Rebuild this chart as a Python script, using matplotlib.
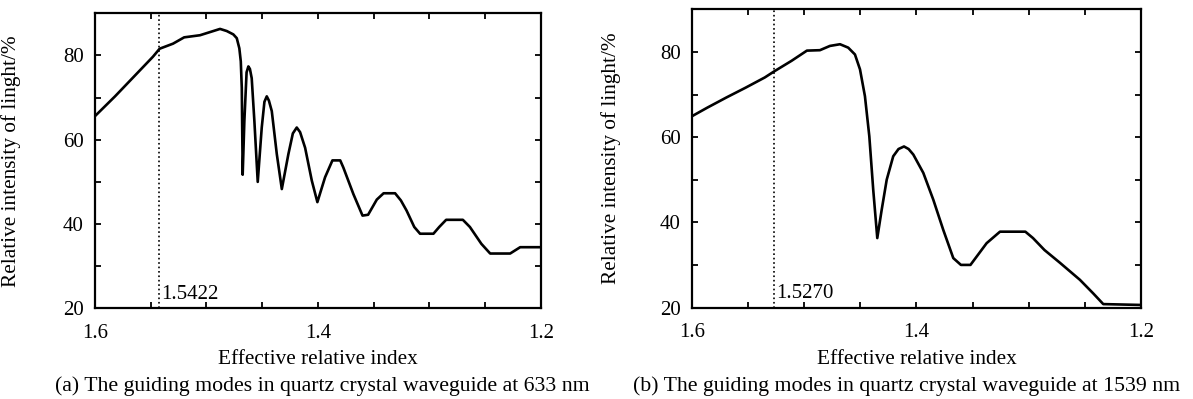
import matplotlib
matplotlib.use('Agg')
import matplotlib.pyplot as plt

plt.rcParams['font.family'] = ['Liberation Serif', 'DejaVu Serif']

# (a) 633 nm
n_a = [1.600, 1.582, 1.565, 1.548, 1.542, 1.530, 1.520, 1.5058, 1.4938, 1.4878,
       1.4818, 1.4759, 1.4728, 1.4705, 1.4692, 1.4683, 1.4675, 1.4660, 1.4640,
       1.4624, 1.4610, 1.4594, 1.4570, 1.4540, 1.4504, 1.4480, 1.4459, 1.4440,
       1.4414, 1.4369, 1.4324, 1.4265, 1.4225, 1.4190, 1.4160, 1.4115, 1.4055,
       1.4005, 1.3936, 1.3870, 1.3800, 1.3772, 1.3682, 1.3600, 1.3550, 1.3472,
       1.3411, 1.3308, 1.3256, 1.3205, 1.3136, 1.3084, 1.2964, 1.2912, 1.2850,
       1.2700, 1.2637, 1.2534, 1.2455, 1.2276, 1.2186, 1.2000]
I_a = [65.6, 70.3, 75.0, 79.7, 81.6, 82.8, 84.3, 84.8, 85.8, 86.3,
       85.8, 85.0, 84.1, 81.7, 78.6, 72.3, 51.7, 64.4, 76.0,
       77.4, 76.8, 74.6, 64.4, 50.0, 62.9, 69.0, 70.3, 69.3,
       66.8, 56.6, 48.3, 56.6, 61.5, 62.9, 61.8, 58.1, 50.3,
       45.2, 51.1, 55.1, 55.1, 53.4, 47.1, 42.0, 42.2, 45.8,
       47.3, 47.3, 45.6, 43.2, 39.3, 37.7, 37.7, 39.3, 41.0,
       41.0, 39.3, 35.3, 33.0, 33.0, 34.5, 34.5]

# (b) 1539 nm
n_b = [1.600, 1.5864, 1.5693, 1.5522, 1.5351, 1.5263, 1.5113, 1.4976, 1.4860,
       1.4771, 1.4681, 1.4608, 1.4548, 1.4503, 1.4459, 1.4420, 1.4385, 1.4349,
       1.4310, 1.4265, 1.4207, 1.4160, 1.4111, 1.4070, 1.4028, 1.3939, 1.3850,
       1.3761, 1.3672, 1.3604, 1.3519, 1.3375, 1.3256, 1.3030, 1.2962, 1.2860,
       1.2722, 1.2544, 1.2425, 1.2336, 1.2000]
I_b = [64.9, 66.9, 69.3, 71.6, 74.0, 75.5, 77.9, 80.3, 80.4,
       81.4, 81.8, 81.0, 79.4, 75.9, 69.6, 60.2, 47.6, 36.3,
       42.9, 50.0, 55.5, 57.2, 57.8, 57.2, 55.9, 51.6, 45.3,
       38.2, 31.6, 30.0, 30.0, 35.1, 37.8, 37.8, 36.3, 33.5,
       30.5, 26.5, 23.3, 20.8, 20.6]

marks = [1.5422, 1.5270]
captions = ['(a) The guiding modes in quartz crystal waveguide at 633 nm',
            '(b) The guiding modes in quartz crystal waveguide at 1539 nm']
xticks = [1.6, 1.55, 1.5, 1.45, 1.4, 1.35, 1.3, 1.25, 1.2]
xlabels = ['1.6', '', '', '', '1.4', '', '', '', '1.2']
yticks = [20, 30, 40, 50, 60, 70, 80, 90]
ylabels = ['20', '', '40', '', '60', '', '80', '']

fig = plt.figure(figsize=(11.93, 3.99), dpi=100)
ax1 = fig.add_axes([0.0796, 0.2273, 0.3738, 0.7393])
ax2 = fig.add_axes([0.5800, 0.2293, 0.3764, 0.7474])

fs = 15.3
for ax, n, I, m, cap, cx, ylx in [(ax1, n_a, I_a, marks[0], captions[0], 0.270, -0.165),
                                  (ax2, n_b, I_b, marks[1], captions[1], 0.760, -0.158)]:
    ax.plot(n, I, color='black', lw=1.9)
    ax.axvline(m, color='black', ls=':', lw=1.2)
    ax.text(m - 0.002, 21.0, '%.4f' % m, fontsize=fs - 0.3, ha='left', va='bottom')
    ax.set_xlim(1.6, 1.2)
    ax.set_ylim(20, 90)
    ax.set_xticks(xticks)
    ax.set_xticklabels(xlabels)
    ax.set_yticks(yticks)
    ax.set_yticklabels(ylabels)
    ax.tick_params(direction='in', length=4, width=1.3, top=True, right=True,
                   labelsize=fs - 0.3)
    ax.tick_params(axis='x', pad=11)
    ax.tick_params(axis='y', pad=8)
    for s in ax.spines.values():
        s.set_linewidth(1.6)
    ax.set_xlabel('Effective relative index', fontsize=fs)
    ax.xaxis.set_label_coords(0.5, -0.142)
    ax.set_ylabel('Relative intensity of linght/%', fontsize=fs)
    ax.yaxis.set_label_coords(ylx, 0.5)
    fig.text(cx, 0.032, cap, fontsize=15.7, ha='center', va='center')

fig.savefig('out.png', dpi=100)
